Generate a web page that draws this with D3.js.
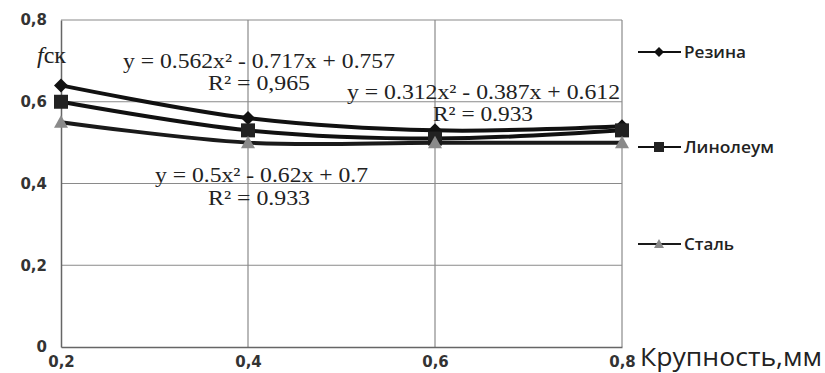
<!DOCTYPE html>
<html>
<head>
<meta charset="utf-8">
<script src="https://cdn.jsdelivr.net/npm/d3@7"></script>
<style>
  html, body { margin: 0; padding: 0; background: #fff; }
  svg { display: block; }
</style>
</head>
<body>
<svg id="chart" width="825" height="373"></svg>
<script>
// Particle size, mm
const sizes = [0.2, 0.4, 0.6, 0.8];
// Friction coefficient per surface
const rubber = [0.64, 0.56, 0.53, 0.54];
const linoleum = [0.60, 0.53, 0.51, 0.53];
const steel = [0.55, 0.50, 0.50, 0.50];

const seriesNames = ["Резина", "Линолеум", "Сталь"];
const xTicks = [0.2, 0.4, 0.6, 0.8];
const yTicks = [0, 0.2, 0.4, 0.6, 0.8];

// Trendline labels
const equations = [
  { eq: "y = 0.562x² - 0.717x + 0.757", r2: "R² = 0,965" },
  { eq: "y = 0.312x² - 0.387x + 0.612", r2: "R² = 0.933" },
  { eq: "y = 0.5x² - 0.62x + 0.7", r2: "R² = 0.933" }
];

const svg = d3.select("#chart");
const x = d3.scaleLinear().domain([0.2, 0.8]).range([61, 622]);
const y = d3.scaleLinear().domain([0, 0.8]).range([347, 20]);
const fmt = v => v === 0 ? "0" : d3.format(".1f")(v).replace(".", ",");

// grid
const grid = svg.append("g");
grid.selectAll("line.h").data(yTicks.filter(v => v > 0)).join("line")
  .attr("x1", x(0.2)).attr("x2", x(0.8))
  .attr("y1", d => y(d)).attr("y2", d => y(d))
  .attr("stroke", "#8a8a8a").attr("stroke-width", 1.2);
grid.selectAll("line.v").data(xTicks.filter(v => v > 0.2)).join("line")
  .attr("x1", d => x(d)).attr("x2", d => x(d))
  .attr("y1", y(0)).attr("y2", y(0.8))
  .attr("stroke", "#8a8a8a").attr("stroke-width", 1.2);

// axes
const xAxis = svg.append("g").attr("transform", `translate(0,${y(0)})`)
  .call(d3.axisBottom(x).tickValues(xTicks).tickSize(0).tickPadding(9).tickFormat(fmt));
const yAxis = svg.append("g").attr("transform", `translate(${x(0.2)},0)`)
  .call(d3.axisLeft(y).tickValues(yTicks).tickSize(0).tickPadding(14).tickFormat(fmt));
[xAxis, yAxis].forEach(a => {
  a.select(".domain").attr("stroke", "#666").attr("stroke-width", 1.5);
  a.selectAll("text").attr("font-family", "DejaVu Sans").attr("font-weight", "bold")
    .attr("font-size", 15).attr("fill", "#333");
});

// y-axis symbol
svg.append("text").attr("x", 37).attr("y", 63)
  .attr("font-family", "Liberation Serif").attr("font-size", 24).attr("fill", "#222")
  .call(t => {
    t.append("tspan").attr("font-style", "italic").text("f");
    t.append("tspan").text("ск");
  });

// x-axis title
svg.append("text").attr("x", 640).attr("y", 366)
  .attr("font-family", "Open Sans").attr("font-size", 25).attr("fill", "#222")
  .attr("textLength", 182).attr("lengthAdjust", "spacingAndGlyphs")
  .text("Крупность,мм");

// series
const data = [rubber, linoleum, steel];
const line = d3.line().x((d, i) => x(sizes[i])).y(d => y(d)).curve(d3.curveCatmullRom);
const lineColors = ["#111", "#111", "#1a1a1a"];
const markerColors = ["#111", "#222", "#8a8a8a"];

function marker(g, k, cx, cy, s) {
  if (k === 0) {
    g.append("path").attr("d", `M${cx},${cy - s}L${cx + s},${cy}L${cx},${cy + s}L${cx - s},${cy}Z`)
      .attr("fill", markerColors[k]);
  } else if (k === 1) {
    g.append("rect").attr("x", cx - s).attr("y", cy - s).attr("width", 2 * s).attr("height", 2 * s)
      .attr("fill", markerColors[k]);
  } else {
    g.append("path").attr("d", `M${cx},${cy - s}L${cx + s},${cy + s * 0.8}L${cx - s},${cy + s * 0.8}Z`)
      .attr("fill", markerColors[k]);
  }
}

data.forEach((vals, k) => {
  svg.append("path").datum(vals).attr("d", line)
    .attr("fill", "none").attr("stroke", lineColors[k]).attr("stroke-width", 4);
  const g = svg.append("g");
  vals.forEach((v, i) => marker(g, k, x(sizes[i]), y(v), 7));
});

// equation labels
const eqPos = [
  { x: 123, w: 272, y: 68, rx: 208, rw: 102, ry: 90 },
  { x: 347, w: 273, y: 99, rx: 433, rw: 100, ry: 121 },
  { x: 155, w: 213, y: 182, rx: 208, rw: 102, ry: 205 }
];
equations.forEach((e, i) => {
  const p = eqPos[i];
  svg.append("text").attr("x", p.x).attr("y", p.y)
    .attr("font-family", "Liberation Serif").attr("font-size", 21).attr("fill", "#222")
    .attr("textLength", p.w).attr("lengthAdjust", "spacingAndGlyphs").text(e.eq);
  svg.append("text").attr("x", p.rx).attr("y", p.ry)
    .attr("font-family", "Liberation Serif").attr("font-size", 21).attr("fill", "#222")
    .attr("textLength", p.rw).attr("lengthAdjust", "spacingAndGlyphs").text(e.r2);
});

// legend
const legY = [52, 147, 244];
const legW = [62, 90, 50];
seriesNames.forEach((name, k) => {
  const g = svg.append("g");
  g.append("line").attr("x1", 638).attr("x2", 681).attr("y1", legY[k]).attr("y2", legY[k])
    .attr("stroke", lineColors[k]).attr("stroke-width", 2.2);
  marker(g, k, 659, legY[k], 5);
  g.append("text").attr("x", 684).attr("y", legY[k] + 6)
    .attr("font-family", "Open Sans").attr("font-weight", 600).attr("font-size", 17).attr("fill", "#222")
    .attr("textLength", legW[k]).attr("lengthAdjust", "spacingAndGlyphs")
    .text(name);
});
</script>
</body>
</html>
